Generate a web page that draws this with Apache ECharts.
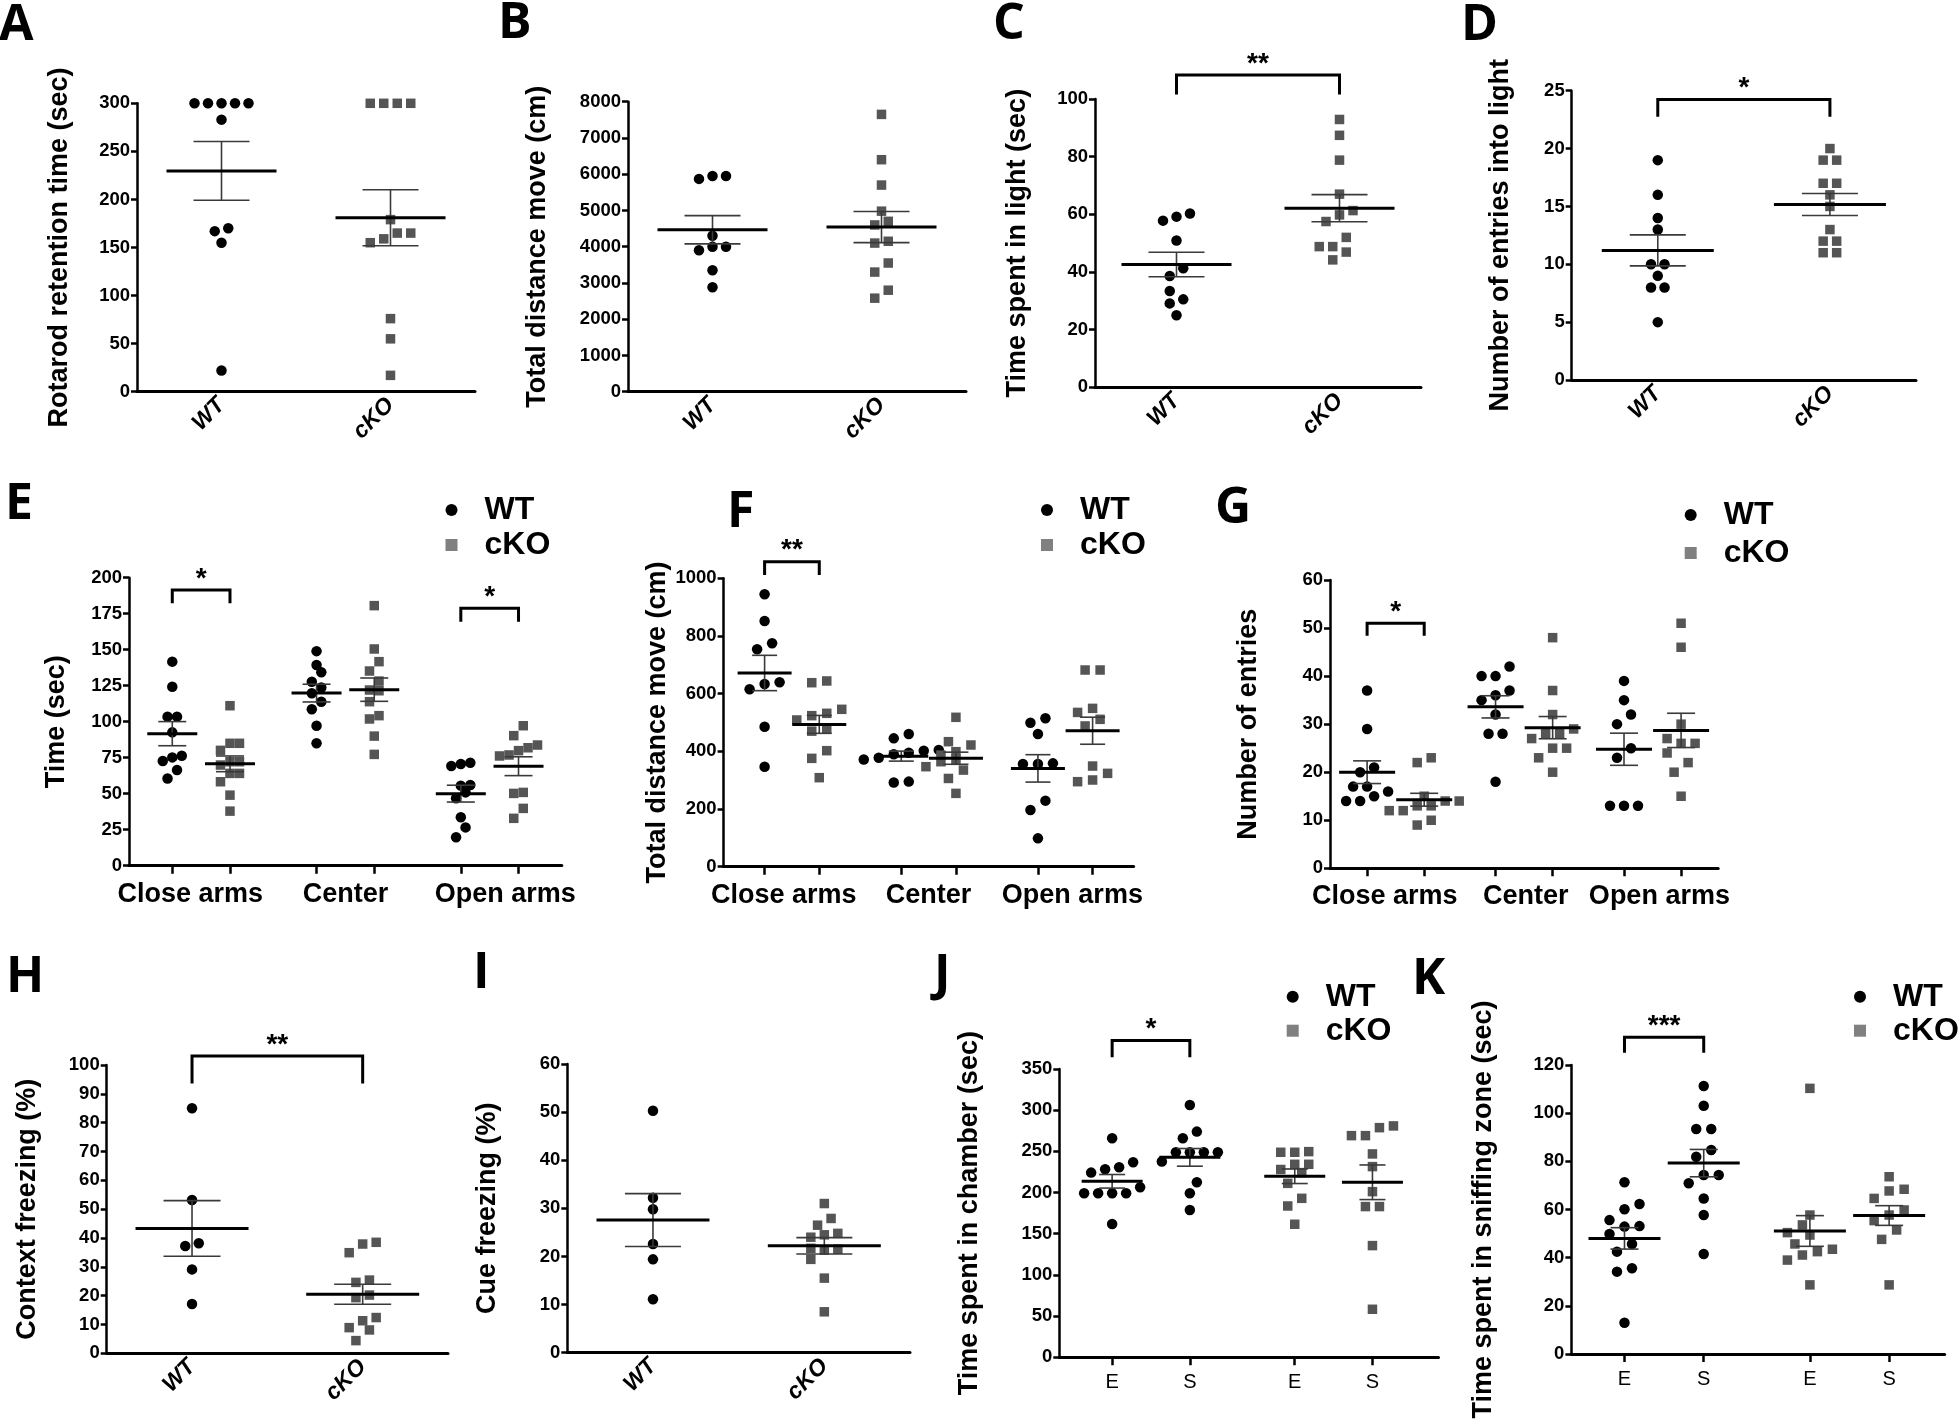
<!DOCTYPE html>
<html><head><meta charset="utf-8">
<script src="https://cdn.jsdelivr.net/npm/echarts@6/dist/echarts.min.js"></script>
<style>html,body{margin:0;padding:0;background:#fff}#c{width:1960px;height:1427px}</style>
</head><body><div id="c"></div>
<script>
// ---------------- DATA ----------------
const groupLabels = ['WT', 'cKO'];
const armLabels = ['Close arms', 'Center', 'Open arms'];
const socialLabels = ['E', 'S', 'E', 'S'];

const A_WT = [300, 300, 300, 300, 300, 283, 170, 167, 155, 22];
const A_cKO = [300, 300, 300, 300, 179, 165, 165, 159, 155, 76, 55, 17];
const B_WT = [5950, 5870, 5950, 4300, 4000, 3900, 4000, 3350, 2880];
const B_cKO = [7650, 6400, 5700, 4980, 4700, 4600, 4150, 4100, 3550, 3300, 2800, 2580];
const C_WT = [60.3, 57.8, 59.2, 50.9, 41.3, 38.6, 33.4, 30.5, 29.1, 25];
const C_cKO = [92.9, 87.4, 78.8, 67, 61.3, 59.8, 57.5, 52, 48.8, 48.8, 46.9, 44.2];
const D_WT = [19, 16, 14, 13, 10, 10, 9, 8, 8, 5];
const D_cKO = [20, 19, 19, 17, 17, 16, 15, 13, 12, 12, 11, 11];

const E_close_WT = [141.7, 124.3, 103.5, 103.5, 92.6, 76.4, 75.2, 72.7, 66.4, 60.6];
const E_close_cKO = [111.1, 85, 85, 80.1, 72.2, 72.2, 69.9, 64.1, 64.1, 58.3, 49, 37.9];
const E_center_WT = [149, 139.4, 134.3, 127.8, 123.8, 119.7, 113.9, 108.6, 97.2, 85];
const E_center_cKO = [180.6, 150.5, 141.7, 135.2, 128.2, 122, 121.5, 113.9, 104.2, 101.9, 90, 77.3];
const E_open_WT = [70.6, 69.2, 71.5, 55.6, 56, 50.9, 46.8, 33.6, 26.6, 19.7];
const E_open_cKO = [97.2, 90.3, 83.8, 81.9, 79.9, 76.9, 76.2, 50.9, 50.2, 39.8, 32.9];

const F_close_WT = [944.5, 852, 774.6, 753.8, 639.3, 633.5, 615, 485.5, 346.8];
const F_close_cKO = [644, 638, 545.7, 531.8, 523.7, 508.7, 479.8, 470, 402.3, 375.7, 308.7];
const F_center_WT = [460, 445, 405, 402, 395, 390, 378, 372, 295, 292];
const F_center_cKO = [518, 433.5, 422, 398.8, 387, 372, 364, 346.8, 335, 306, 254.3];
const F_open_WT = [514.5, 499.4, 460, 358.4, 356, 356, 229, 196.5, 98.3];
const F_open_cKO = [682, 682, 549, 535, 511, 488, 349, 323.7, 294.8, 300.6];

const G_close_WT = [37, 29, 21, 20, 17, 17, 16, 15, 14, 14];
const G_close_cKO = [23, 22, 15, 14, 14, 13, 13, 12, 12, 10, 9];
const G_center_WT = [42, 40, 40, 37, 36, 35, 32, 28, 28, 18];
const G_center_cKO = [48, 37, 32, 29, 28, 28, 27, 25, 25, 23, 20];
const G_open_WT = [39, 35, 32, 30, 25, 23, 13, 13, 13];
const G_open_cKO = [51, 46, 30, 27, 26, 26, 24, 22, 20, 15];

const H_WT = [85, 53.2, 38.2, 37.2, 29.1, 17.1];
const H_cKO = [38.5, 37.9, 34.9, 25.4, 24.6, 20.2, 19.3, 12.4, 11.3, 8.9, 8.1, 4.4];
const I_WT = [50.3, 32.2, 29.8, 22.6, 19.4, 11.1];
const I_cKO = [31, 27.9, 26.5, 24.5, 24.8, 24, 21.5, 21.3, 21.7, 19.4, 15.5, 8.5];

const J_E_WT = [265.9, 230.7, 224.2, 228.2, 236.7, 206.4, 199.1, 199.1, 199.1, 199.1, 161.9];
const J_S_WT = [306.4, 274, 265.9, 248.9, 248.9, 248.9, 248.9, 237.6, 212.5, 199.1, 178.9];
const J_E_cKO = [249.7, 248.9, 248.9, 234.3, 234.3, 228, 224.2, 211.2, 193, 183.7, 161.5];
const J_S_cKO = [278.8, 280.9, 269.1, 269.1, 246.9, 231.5, 201.1, 183, 183, 135.6, 58.3];

const K_E_WT = [71.3, 62.3, 60.1, 55.6, 52.9, 53.1, 49.8, 45.7, 42.5, 35.6, 34.2, 13];
const K_S_WT = [111.3, 103.1, 93.4, 93.4, 84.7, 81.9, 74.3, 74.3, 70.9, 64.6, 57.7, 41.5];
const K_E_cKO = [110.3, 57.7, 53.6, 50.4, 49.4, 45.7, 43.5, 42.5, 41.1, 39, 28.7];
const K_S_cKO = [73.6, 68.4, 67.7, 64.6, 59.8, 57.7, 55.4, 51.5, 47.6, 28.7];

// significance annotations: [fromGroup, toGroup, bracket level, leg end level, text]
const C_sig = [[0, 1, 108.3, 101.6, '**']];
const D_sig = [[0, 1, 24.25, 22.75, '*']];
const E_sig = [[0, 1, 191.4, 182.2, '*'], [4, 5, 178.7, 169.4, '*']];
const F_sig = [[0, 1, 1057.8, 1011.6, '**']];
const G_sig = [[0, 1, 51, 48.4, '*']];
const H_sig = [[0, 1, 103.1, 93.6, '**']];
const J_sig = [[0, 1, 384.5, 364.2, '*']];
const K_sig = [[0, 1, 131.5, 125.1, '***']];

// ---------------- LAYOUT / STYLE ----------------
const FONT = "'Liberation Sans', Arial, sans-serif";
const WT_COLOR = '#000000';
const KO_COLOR = '#555555';
const KO_LEGEND_COLOR = '#808080';

const panels = [
  {type: 'two', box: [137, 103.3, 475, 391.7], ymax: 300, yint: 50, title: 'Rotarod retention time (sec)', nameGap: 63.5,
   groups: [A_WT, A_cKO], sig: [], D: 13.5, meanW: 110, semW: 56},
  {type: 'two', box: [628, 101.7, 966, 391.7], ymax: 8000, yint: 1000, title: 'Total distance move (cm)', nameGap: 76.5,
   groups: [B_WT, B_cKO], sig: [], D: 13.5, meanW: 110, semW: 56},
  {type: 'two', box: [1095, 99, 1421, 387.3], ymax: 100, yint: 20, title: 'Time spent in light (sec)', nameGap: 63.5,
   groups: [C_WT, C_cKO], sig: C_sig, D: 13.5, meanW: 110, semW: 56},
  {type: 'two', box: [1571.7, 90.7, 1916, 380], ymax: 25, yint: 5, title: 'Number of entries into light', nameGap: 58,
   groups: [D_WT, D_cKO], sig: D_sig, D: 13.5, meanW: 112, semW: 56},
  {type: 'multi', box: [129, 577.7, 561.8, 865.7], xmin: -0.75, xmax: 6.75, pos: [0, 1, 2.5, 3.5, 5, 6],
   labelPos: [0.31, 3.0, 5.77], labels: armLabels, labelSize: 27, labelBold: true,
   ymax: 200, yint: 25, title: 'Time (sec)', nameGap: 58.5,
   groups: [E_close_WT, E_close_cKO, E_center_WT, E_center_cKO, E_open_WT, E_open_cKO], sig: E_sig,
   D: 9.5, meanW: 50, semW: 28, legend: [451.5, 510, 35]},
  {type: 'multi', box: [723.6, 578.3, 1133.6, 866.7], xmin: -0.75, xmax: 6.75, pos: [0, 1, 2.5, 3.5, 5, 6],
   labelPos: [0.35, 3.0, 5.63], labels: armLabels, labelSize: 27, labelBold: true,
   ymax: 1000, yint: 200, title: 'Total distance move (cm)', nameGap: 52,
   groups: [F_close_WT, F_close_cKO, F_center_WT, F_center_cKO, F_open_WT, F_open_cKO], sig: F_sig,
   D: 15, meanW: 54, semW: 25, legend: [1047, 510, 35]},
  {type: 'multi', box: [1330, 580, 1718.2, 868.3], xmin: -0.65, xmax: 6.15, pos: [0, 1, 2.25, 3.25, 4.5, 5.5],
   labelPos: [0.31, 2.78, 5.12], labels: armLabels, labelSize: 27, labelBold: true,
   ymax: 60, yint: 10, title: 'Number of entries', nameGap: 67.5,
   groups: [G_close_WT, G_close_cKO, G_center_WT, G_center_cKO, G_open_WT, G_open_cKO], sig: G_sig,
   D: 14, meanW: 56, semW: 28, legend: [1690.7, 515, 38]},
  {type: 'two', box: [106.7, 1065, 448, 1353.3], ymax: 100, yint: 10, title: 'Context freezing (%)', nameGap: 66,
   groups: [H_WT, H_cKO], sig: H_sig, D: 13.5, meanW: 113, semW: 57},
  {type: 'two', box: [567.3, 1064, 910, 1352.7], ymax: 60, yint: 10, title: 'Cue freezing (%)', nameGap: 66,
   groups: [I_WT, I_cKO], sig: [], D: 13.5, meanW: 113, semW: 56},
  {type: 'multi', box: [1059.3, 1069, 1438.5, 1357.3], xmin: -0.68, xmax: 4.2, pos: [0, 1, 2.35, 3.35],
   labelPos: [0, 1, 2.35, 3.35], labels: socialLabels, labelSize: 20, labelBold: false,
   ymax: 350, yint: 50, title: 'Time spent in chamber (sec)', nameGap: 76,
   groups: [J_E_WT, J_S_WT, J_E_cKO, J_S_cKO], groupIsKO: [false, false, true, true], sig: J_sig,
   D: 14, meanW: 61, semW: 26, legend: [1292.7, 996.7, 34]},
  {type: 'multi', box: [1571.4, 1065, 1944.6, 1354], xmin: -0.67, xmax: 4.04, pos: [0, 1, 2.34, 3.34],
   labelPos: [0, 1, 2.34, 3.34], labels: socialLabels, labelSize: 20, labelBold: false,
   ymax: 120, yint: 20, title: 'Time spent in sniffing zone (sec)', nameGap: 74,
   groups: [K_E_WT, K_S_WT, K_E_cKO, K_S_cKO], groupIsKO: [false, false, true, true], sig: K_sig,
   D: 15, meanW: 72, semW: 28, legend: [1860, 996.7, 34]}
];

const letters = [['A', -1, 26], ['B', 498, 24], ['C', 993, 24.5], ['D', 1461, 25.5], ['E', 5, 504.5], ['F', 727, 512.5],
  ['G', 1215, 508.5], ['H', 6, 977.5], ['I', 473, 973.5], ['J', 934, 975.5], ['K', 1412, 979.5]];

// ---------------- helpers ----------------
function meanSem(arr) {
  const n = arr.length;
  const m = arr.reduce((a, b) => a + b, 0) / n;
  const sd = Math.sqrt(arr.reduce((a, b) => a + (b - m) * (b - m), 0) / (n - 1));
  return [m, sd / Math.sqrt(n)];
}
// row-based beeswarm (horizontal pixel offsets), points with close values placed side by side
function swarm(values, pxPerUnit, D, H) {
  const order = values.map((v, i) => i).sort((a, b) => values[a] - values[b]);
  const off = new Array(values.length).fill(0);
  const placed = [];
  let i = 0;
  while (i < order.length) {
    const y0 = values[order[i]] * pxPerUnit;
    const row = [];
    while (i < order.length && values[order[i]] * pxPerUnit - y0 < H) { row.push(order[i]); i++; }
    const n = row.length;
    let best = null;
    for (const shift of [0, D / 2, -D / 2, D, -D]) {
      const xs = row.map((_, k) => (k - (n - 1) / 2) * D + shift);
      let ok = true;
      row.forEach((id, k) => {
        const y = values[id] * pxPerUnit;
        for (const p of placed) if (Math.hypot(xs[k] - p.x, y - p.y) < D * 0.8) ok = false;
      });
      if (ok) { best = xs; break; }
    }
    if (!best) best = row.map((_, k) => (k - (n - 1) / 2) * D);
    row.forEach((id, k) => { off[id] = best[k]; placed.push({x: best[k], y: values[id] * pxPerUnit}); });
  }
  return off;
}

const grids = [], xAxes = [], yAxes = [], series = [], legends = [];
panels.forEach((p, gi) => {
  const [l, t, r, b] = p.box;
  grids.push({left: l, top: t, width: r - l, height: b - t, outerBoundsMode: 'none', containLabel: false});
  if (p.type === 'two') {
    xAxes.push({type: 'category', gridIndex: gi, data: groupLabels, boundaryGap: true,
      axisLine: {onZero: false, lineStyle: {color: '#000', width: 3}},
      axisTick: {alignWithLabel: true, length: 8, lineStyle: {color: '#000', width: 2.5}},
      axisLabel: {rotate: 45, margin: 10, fontSize: 23, fontWeight: 'bold', fontStyle: 'italic', color: '#000', fontFamily: FONT},
      splitLine: {show: false}});
  } else {
    const lp = p.labelPos, lb = p.labels;
    xAxes.push({type: 'value', gridIndex: gi, min: p.xmin, max: p.xmax,
      axisLine: {show: true, onZero: false, lineStyle: {color: '#000', width: 3}},
      axisTick: {show: true, customValues: p.pos, length: 8, lineStyle: {color: '#000', width: 2.5}},
      axisLabel: {customValues: lp, margin: 15, fontSize: p.labelSize, fontWeight: p.labelBold ? 'bold' : 'normal', color: '#000', fontFamily: FONT,
        formatter: (v) => { const k = lp.findIndex(q => Math.abs(q - v) < 1e-6); return k >= 0 ? lb[k] : ''; }},
      splitLine: {show: false}});
  }
  yAxes.push({type: 'value', gridIndex: gi, min: 0, max: p.ymax, interval: p.yint,
    name: p.title, nameLocation: 'middle', nameGap: p.nameGap,
    nameTextStyle: {fontSize: 27, fontWeight: 'bold', color: '#000', fontFamily: FONT},
    axisLine: {show: true, onZero: false, lineStyle: {color: '#000', width: 2.5}},
    axisTick: {show: true, length: 6, lineStyle: {color: '#000', width: 2.5}},
    axisLabel: {margin: 7, fontSize: 18.5, fontWeight: 'bold', color: '#000', fontFamily: FONT, formatter: (v) => String(v)},
    splitLine: {show: false}});

  const pxPerUnit = (b - t) / p.ymax;
  const wtData = [], koData = [], stats = [];
  p.groups.forEach((vals, k) => {
    const x = p.type === 'two' ? k : p.pos[k];
    const isKO = p.groupIsKO ? p.groupIsKO[k] : (k % 2 === 1);
    const off = swarm(vals, pxPerUnit, p.D, 11);
    vals.forEach((v, j) => (isKO ? koData : wtData).push({value: [x, v], symbolOffset: [off[j], 0]}));
    const [m, s] = meanSem(vals);
    stats.push([x, m, s]);
  });
  series.push({type: 'scatter', name: 'WT', xAxisIndex: gi, yAxisIndex: gi, symbol: 'circle', symbolSize: 10.5,
    itemStyle: {color: WT_COLOR, opacity: 1}, data: wtData, z: 3, silent: true});
  series.push({type: 'scatter', name: 'cKO', xAxisIndex: gi, yAxisIndex: gi, symbol: 'rect', symbolSize: 9.5,
    itemStyle: {color: KO_COLOR, opacity: 1}, data: koData, z: 3, silent: true});
  const mw = p.meanW / 2, sw = p.semW / 2;
  series.push({type: 'custom', name: 'stats' + gi, xAxisIndex: gi, yAxisIndex: gi, z: 4, silent: true,
    encode: {x: 0, y: 1}, data: stats,
    renderItem: (params, api) => {
      const x = api.value(0), m = api.value(1), s = api.value(2);
      const c = api.coord([x, m]), hi = api.coord([x, m + s]), lo = api.coord([x, m - s]);
      const thin = {stroke: '#3a3a3a', lineWidth: 1.6};
      return {type: 'group', children: [
        {type: 'line', shape: {x1: c[0], y1: hi[1], x2: c[0], y2: lo[1]}, style: thin},
        {type: 'line', shape: {x1: c[0] - sw, y1: hi[1], x2: c[0] + sw, y2: hi[1]}, style: thin},
        {type: 'line', shape: {x1: c[0] - sw, y1: lo[1], x2: c[0] + sw, y2: lo[1]}, style: thin},
        {type: 'line', shape: {x1: c[0] - mw, y1: c[1], x2: c[0] + mw, y2: c[1]}, style: {stroke: '#000', lineWidth: 3}}
      ]};
    }});
  if (p.sig.length) {
    const sigData = p.sig.map(sg => {
      const x1 = p.type === 'two' ? sg[0] : p.pos[sg[0]];
      const x2 = p.type === 'two' ? sg[1] : p.pos[sg[1]];
      return [x1, sg[2], x2, sg[3], sg[4]];
    });
    series.push({type: 'custom', name: 'sig' + gi, xAxisIndex: gi, yAxisIndex: gi, z: 4, silent: true, clip: false,
      encode: {x: 0, y: 1}, data: sigData,
      renderItem: (params, api) => {
        const a = api.coord([api.value(0), api.value(1)]);
        const bpt = api.coord([api.value(2), api.value(3)]);
        const txt = sigData[params.dataIndex][4];
        return {type: 'group', children: [
          {type: 'polyline', shape: {points: [[a[0], bpt[1]], [a[0], a[1]], [bpt[0], a[1]], [bpt[0], bpt[1]]]},
           style: {stroke: '#000', lineWidth: 3, fill: null}},
          {type: 'text', x: (a[0] + bpt[0]) / 2, y: a[1] - 11,
           style: {text: txt, fontSize: 28, fontWeight: 'bold', fontFamily: FONT, fill: '#000', align: 'center', verticalAlign: 'middle'}}
        ]};
      }});
  }
  if (p.legend) {
    const [mx, my, gap] = p.legend;
    legends.push({orient: 'vertical', left: mx - 6, top: my - 16, padding: 0, itemGap: gap - 32,
      itemWidth: 12, itemHeight: 12, selectedMode: false,
      data: [{name: 'WT', icon: 'circle'}, {name: 'cKO', icon: 'rect', itemStyle: {color: KO_LEGEND_COLOR}}],
      textStyle: {fontSize: 32, fontWeight: 'bold', color: '#000', fontFamily: FONT, padding: [0, 0, 0, 22]}});
  }
});

const graphic = letters.map(([txt, x, y]) => ({type: 'text', x: x, y: y,
  style: {text: txt, fontSize: 50, fontWeight: 'bold', fontFamily: "'Open Sans', 'Liberation Sans', sans-serif", fill: '#000',
    align: 'left', verticalAlign: 'middle'}}));

const chart = echarts.init(document.getElementById('c'), null, {renderer: 'canvas', width: 1960, height: 1427});
chart.setOption({
  animation: false,
  backgroundColor: '#ffffff',
  grid: grids, xAxis: xAxes, yAxis: yAxes, series: series, legend: legends, graphic: graphic
});
</script>
</body></html>
